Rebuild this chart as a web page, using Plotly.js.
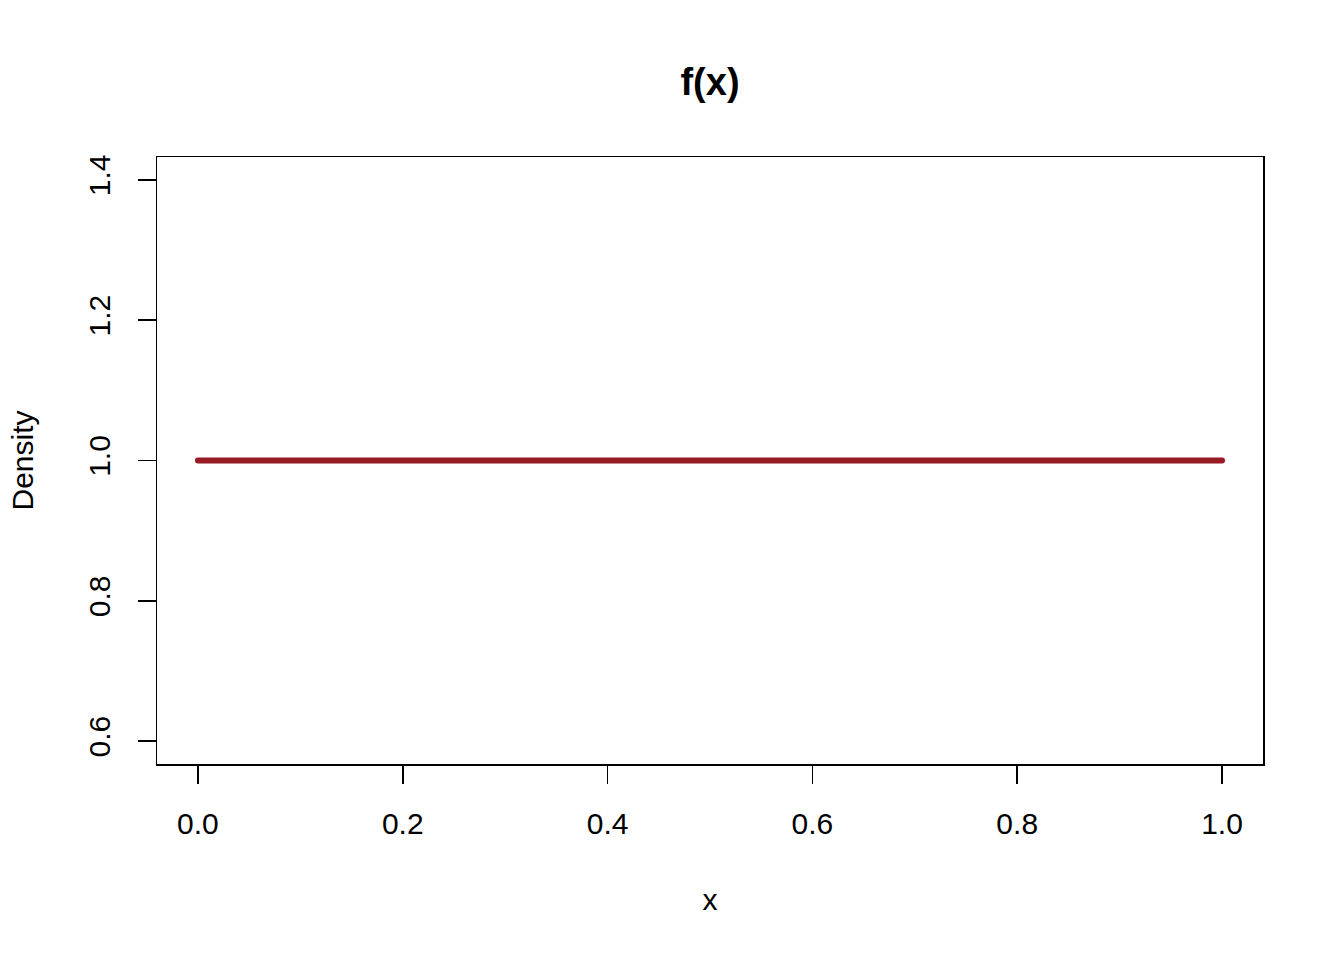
<!DOCTYPE html>
<html>
<head>
<meta charset="utf-8">
<script src="https://cdn.plot.ly/plotly-3.0.1.min.js"></script>
<style>html,body{margin:0;padding:0;background:#fff;}#chart{width:1344px;height:960px;}
.js-line{stroke-linecap:round;}</style>
</head>
<body>
<div id="chart"></div>
<script>
// Data: uniform density f(x) on [0, 1]
const xValues = [0, 1];
const densityValues = [1, 1];
const xTickValues = [0, 0.2, 0.4, 0.6, 0.8, 1.0];
const xTickLabels = ['0.0', '0.2', '0.4', '0.6', '0.8', '1.0'];
const yTickValues = [0.6, 0.8, 1.0, 1.2, 1.4];
const yTickLabels = ['0.6', '0.8', '1.0', '1.2', '1.4'];

const FONT = 'Liberation Sans, Arial, Helvetica, sans-serif';

const trace = {
  x: xValues,
  y: densityValues,
  type: 'scatter',
  mode: 'lines',
  line: {color: '#971B25', width: 6},
  hoverinfo: 'skip',
  showlegend: false
};

const axisCommon = {
  showgrid: false,
  zeroline: false,
  showline: true,
  mirror: true,
  linecolor: '#000',
  linewidth: 1.5,
  ticks: 'outside',
  ticklen: 18,
  tickwidth: 1.5,
  tickcolor: '#000',
  tickfont: {family: FONT, size: 30, color: '#000'},
  tickmode: 'array',
  fixedrange: true
};

const layout = {
  width: 1344,
  height: 960,
  paper_bgcolor: '#fff',
  plot_bgcolor: '#fff',
  margin: {l: 157, r: 81, t: 157, b: 196},
  font: {family: FONT, color: '#000'},
  title: {
    text: '<b>f(x)</b>',
    font: {family: FONT, size: 38, color: '#000'},
    x: 0.5, xref: 'paper', xanchor: 'center',
    y: 1 - 82/960, yref: 'container', yanchor: 'middle'
  },
  xaxis: Object.assign({}, axisCommon, {
    range: [-0.04, 1.04],
    tickvals: xTickValues,
    ticktext: xTickLabels,
    ticklabelstandoff: 14,
    title: {text: 'x', font: {family: FONT, size: 30, color: '#000'}, standoff: 50}
  }),
  yaxis: Object.assign({}, axisCommon, {
    range: [0.5675, 1.4325],
    tickvals: yTickValues,
    ticktext: yTickLabels,
    tickangle: -90,
    ticklabelstandoff: 16,
    title: {text: 'Density', font: {family: FONT, size: 30, color: '#000'}, standoff: 40}
  })
};

Plotly.newPlot('chart', [trace], layout, {displayModeBar: false, staticPlot: true});
</script>
</body>
</html>
